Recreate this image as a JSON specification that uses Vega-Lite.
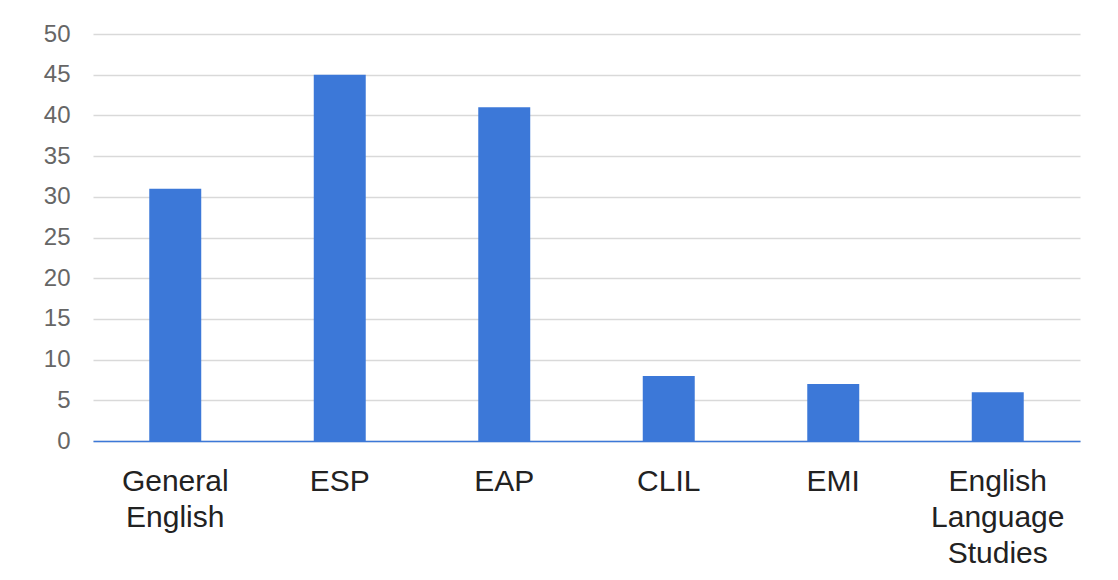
{
  "$schema": "https://vega.github.io/schema/vega-lite/v6.json",
  "autosize": {"type": "none"},
  "width": 987,
  "height": 407,
  "padding": {"left": 93, "top": 34, "right": 38, "bottom": 139},
  "background": "white",
  "config": {
    "font": "Liberation Sans",
    "view": {"stroke": null}
  },
  "data": {
    "values": [
      {"category": "General English", "count": 31},
      {"category": "ESP", "count": 45},
      {"category": "EAP", "count": 41},
      {"category": "CLIL", "count": 8},
      {"category": "EMI", "count": 7},
      {"category": "English Language Studies", "count": 6}
    ]
  },
  "mark": {"type": "bar", "color": "#3c78d8"},
  "encoding": {
    "x": {
      "field": "category",
      "type": "nominal",
      "sort": null,
      "scale": {"paddingInner": 0.684, "paddingOuter": 0.342},
      "axis": {
        "title": null,
        "labelAngle": 0,
        "labelExpr": "split(datum.label, ' ')",
        "labelFont": "Liberation Sans",
        "labelFontSize": 30,
        "labelColor": "#222222",
        "labelLineHeight": 36,
        "labelPadding": 25,
        "labelLimit": 0,
        "ticks": false,
        "domainColor": "#3c78d8",
        "domainWidth": 1.5,
        "zindex": 2
      }
    },
    "y": {
      "field": "count",
      "type": "quantitative",
      "scale": {"domain": [0, 50], "nice": false},
      "axis": {
        "title": null,
        "values": [0, 5, 10, 15, 20, 25, 30, 35, 40, 45, 50],
        "domain": false,
        "ticks": false,
        "labelFont": "Liberation Sans",
        "labelFontSize": 24,
        "labelColor": "#666666",
        "labelPadding": 23,
        "gridColor": "#d9d9d9",
        "gridWidth": 1.5
      }
    }
  }
}
